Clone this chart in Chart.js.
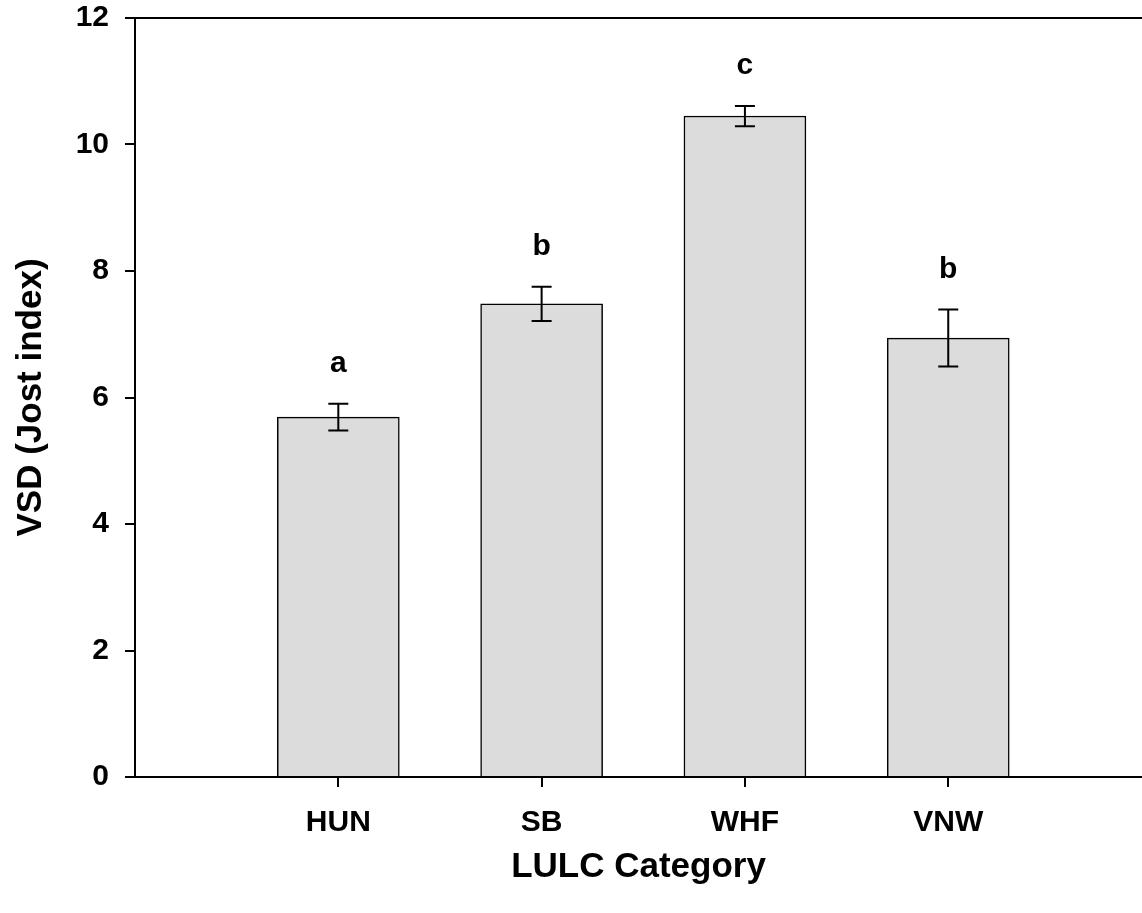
<!DOCTYPE html>
<html>
<head>
<meta charset="utf-8">
<script src="https://cdn.jsdelivr.net/npm/chart.js@4/dist/chart.umd.min.js"></script>
<style>
  html, body { margin: 0; padding: 0; background: #fff; overflow: hidden; }
  #wrap { width: 1142px; height: 913px; position: relative; }
</style>
</head>
<body>
<div id="wrap"><canvas id="grafico"></canvas></div>
<script>
const categorias = ["HUN", "SB", "WHF", "VNW"];
const medias = [5.69, 7.48, 10.45, 6.94];
const errores = [0.21, 0.27, 0.16, 0.45];
const letras = ["a", "b", "c", "b"];
const ticksY = [0, 2, 4, 6, 8, 10, 12];

const fuente = "'Liberation Sans', Arial, sans-serif";

// barras de error y letras de significancia
const errorBars = {
  id: "errorBars",
  afterDatasetsDraw(chart) {
    const ctx = chart.ctx;
    const y = chart.scales.y;
    const meta = chart.getDatasetMeta(0);
    ctx.save();
    ctx.strokeStyle = "#000";
    ctx.lineWidth = 2;
    meta.data.forEach((bar, i) => {
      const x = bar.x;
      const yTop = y.getPixelForValue(medias[i] + errores[i]);
      const yBot = y.getPixelForValue(medias[i] - errores[i]);
      ctx.beginPath();
      ctx.moveTo(x, yTop); ctx.lineTo(x, yBot);
      ctx.moveTo(x - 10, yTop); ctx.lineTo(x + 10, yTop);
      ctx.moveTo(x - 10, yBot); ctx.lineTo(x + 10, yBot);
      ctx.stroke();

      ctx.fillStyle = "#000";
      ctx.font = "bold 30px " + fuente;
      ctx.textAlign = "center";
      ctx.textBaseline = "alphabetic";
      ctx.fillText(letras[i], x, yTop - 32);
    });
    // linea superior del marco
    const a = chart.chartArea;
    ctx.beginPath();
    ctx.moveTo(a.left, a.top);
    ctx.lineTo(chart.width, a.top);
    ctx.stroke();
    ctx.restore();
  }
};

const datos = categorias.map((c, i) => ({ x: i, y: medias[i] }));

new Chart(document.getElementById("grafico"), {
  type: "bar",
  data: {
    datasets: [{
      data: datos,
      backgroundColor: "#dcdcdc",
      borderColor: "#000",
      borderWidth: 1.5,
      barThickness: 122
    }]
  },
  options: {
    responsive: true,
    maintainAspectRatio: false,
    animation: false,
    layout: { padding: { top: 18, right: 0, left: 0, bottom: 0 } },
    plugins: {
      legend: { display: false },
      tooltip: { enabled: false }
    },
    scales: {
      x: {
        type: "linear",
        offset: false,
        min: -1,
        max: 3.953,
        afterBuildTicks: scale => {
          scale.ticks = categorias.map((c, i) => ({ value: i }));
        },
        afterFit: scale => {
          scale.height = 136;
          scale.paddingLeft = 0;
          scale.paddingRight = 0;
        },
        ticks: {
          callback: v => categorias[v],
          color: "#000",
          font: { family: fuente, size: 30, weight: "bold" },
          padding: 18,
          maxRotation: 0
        },
        grid: {
          offset: false,
          drawOnChartArea: false,
          drawTicks: true,
          tickLength: 10,
          color: "#000",
          lineWidth: 2
        },
        border: { display: true, color: "#000", width: 2 },
        title: {
          display: true,
          text: "LULC Category",
          color: "#000",
          font: { family: fuente, size: 35, weight: "bold" },
          padding: { top: 0, bottom: 25 }
        }
      },
      y: {
        min: 0,
        max: 12,
        afterBuildTicks: scale => {
          scale.ticks = ticksY.map(v => ({ value: v }));
        },
        afterFit: scale => {
          scale.width = 135;
          scale.paddingTop = 0;
          scale.paddingBottom = 0;
        },
        ticks: {
          color: "#000",
          font: { family: fuente, size: 30, weight: "bold" },
          padding: 16
        },
        grid: {
          drawOnChartArea: false,
          drawTicks: true,
          tickLength: 10,
          color: "#000",
          lineWidth: 2
        },
        border: { display: true, color: "#000", width: 2 },
        title: {
          display: true,
          text: "VSD (Jost index)",
          color: "#000",
          font: { family: fuente, size: 35, weight: "bold" },
          padding: { top: 10, bottom: 0 }
        }
      }
    }
  },
  plugins: [errorBars]
});
</script>
</body>
</html>
